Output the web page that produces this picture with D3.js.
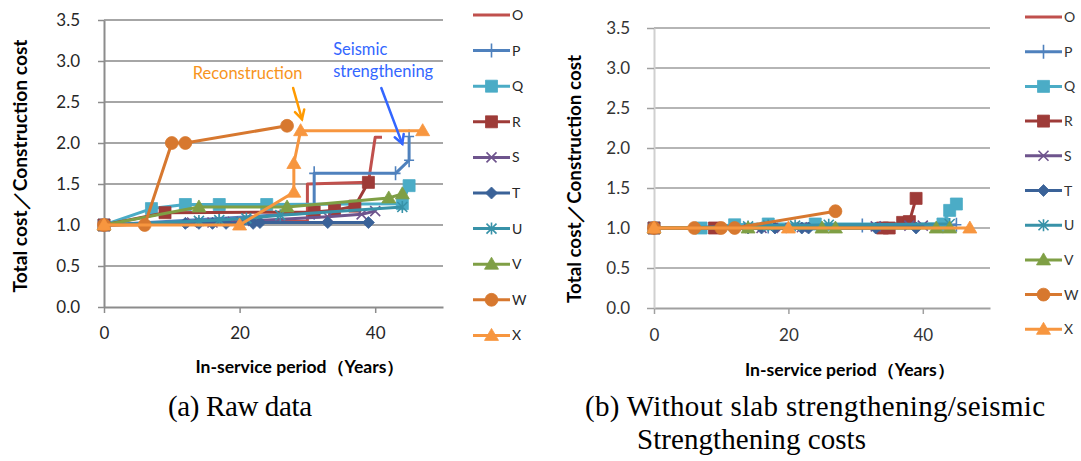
<!DOCTYPE html>
<html>
<head>
<meta charset="utf-8">
<script src="https://cdn.jsdelivr.net/npm/d3@7"></script>
<style>
  body { margin: 0; background: #fff; }
  svg { display: block; }
</style>
</head>
<body>
<script>
// series and ticks
const seriesNames = ["O", "P", "Q", "R", "S", "T", "U", "V", "W", "X"];
const xTicks = [0, 20, 40];
const yTicks = [0, 0.5, 1.0, 1.5, 2.0, 2.5, 3.0, 3.5];

// (a) raw data: [in-service years, total cost / construction cost]
const rawO = [[0, 1.0], [30, 1.05], [30, 1.5], [39, 1.52], [40, 2.07], [41, 2.07]];
const rawP = [[0, 1.0], [17, 1.08], [31, 1.15], [31, 1.63], [43, 1.63], [45, 1.79], [45, 2.08]];
const rawQ = [[0, 1.0], [7, 1.2], [12, 1.25], [17, 1.25], [24, 1.25], [44, 1.26], [45, 1.48]];
const rawR = [[0, 1.0], [9, 1.15], [31, 1.16], [34, 1.18], [37, 1.23], [39, 1.52]];
const rawS = [[0, 1.0], [13, 1.03], [16, 1.03], [19, 1.04], [22, 1.05], [33, 1.1], [38, 1.13], [40, 1.17]];
const rawT = [[0, 1.0], [12, 1.02], [14, 1.02], [16, 1.02], [18, 1.02], [22, 1.02], [23, 1.03], [33, 1.03], [39, 1.03]];
const rawU = [[0, 1.0], [14, 1.05], [17, 1.06], [21, 1.08], [26, 1.12], [44, 1.22]];
const rawV = [[0, 1.0], [14, 1.22], [27, 1.22], [42, 1.33], [44, 1.38]];
const rawW = [[0, 1.0], [6, 1.0], [10, 2.0], [12, 2.0], [27, 2.21]];
const rawX = [[0, 1.0], [20, 1.0], [28, 1.4], [28, 1.75], [29, 2.15], [47, 2.15]];

// (b) without slab strengthening / seismic strengthening costs
const adjO = [[0, 1.0], [30, 1.0], [39, 1.02], [41, 1.02]];
const adjP = [[0, 1.0], [17, 1.02], [31, 1.03], [43, 1.03], [45, 1.04]];
const adjQ = [[0, 1.0], [7, 1.0], [12, 1.04], [17, 1.05], [24, 1.05], [43, 1.05], [44, 1.22], [45, 1.3]];
const adjR = [[0, 1.0], [9, 1.0], [34, 1.0], [35, 1.0], [37, 1.07], [38, 1.08], [39, 1.37]];
const adjS = [[0, 1.0], [13, 1.0], [16, 1.0], [19, 1.0], [22, 1.01], [33, 1.02], [38, 1.03], [40, 1.03]];
const adjT = [[0, 1.0], [12, 1.0], [14, 1.0], [16, 1.0], [18, 1.0], [22, 1.0], [23, 1.0], [33, 1.0], [39, 1.0]];
const adjU = [[0, 1.0], [14, 1.02], [17, 1.03], [21, 1.03], [26, 1.04], [44, 1.05]];
const adjV = [[0, 1.0], [14, 1.0], [25, 1.0], [27, 1.0], [42, 1.0], [44, 1.0]];
const adjW = [[0, 1.0], [6, 1.0], [10, 1.0], [12, 1.0], [27, 1.21]];
const adjX = [[0, 1.0], [20, 1.0], [47, 1.0]];

const rawSeries = [rawO, rawP, rawQ, rawR, rawS, rawT, rawU, rawV, rawW, rawX];
const adjSeries = [adjO, adjP, adjQ, adjR, adjS, adjT, adjU, adjV, adjW, adjX];

// look of each series (Excel 2007 style palette)
const style = {
  O: { color: "#C0504D", marker: "none" },
  P: { color: "#4F81BD", marker: "plus" },
  Q: { color: "#4BACC6", marker: "square" },
  R: { color: "#9E3B38", marker: "square" },
  S: { color: "#6E548D", marker: "cross" },
  T: { color: "#3A6298", marker: "diamond" },
  U: { color: "#3892A8", marker: "asterisk" },
  V: { color: "#7F9F45", marker: "triangle" },
  W: { color: "#D7782F", marker: "circle" },
  X: { color: "#F7963F", marker: "triangle" }
};

const font = "Lato, 'Open Sans', sans-serif";
const svg = d3.select("body").append("svg")
    .attr("width", 1081)
    .attr("height", 461);

// marker path centred on 0,0
function markerPath(type) {
  switch (type) {
    case "square": return "M-6,-6H6V6H-6Z";
    case "diamond": return "M0,-6L6,0L0,6L-6,0Z";
    case "triangle": return "M0,-7L7,5L-7,5Z";
    case "circle": return d3.symbol(d3.symbolCircle, 130)();
    case "plus": return "M-5,0H5M0,-7V7";
    case "cross": return "M-5,-5L5,5M-5,5L5,-5";
    case "asterisk": return "M-5,-5L5,5M-5,5L5,-5M0,-6V6";
    default: return null;
  }
}

function addMarker(sel, name) {
  const st = style[name];
  const d = markerPath(st.marker);
  if (!d) return;
  const open = ["plus", "cross", "asterisk"].includes(st.marker);
  sel.append("path")
      .attr("d", d)
      .attr("fill", open ? "none" : st.color)
      .attr("stroke", st.color)
      .attr("stroke-width", open ? 1.6 : 0.8);
}

function drawPanel(p, series) {
  const x = d3.scaleLinear().domain([0, 50]).range([p.left, p.right]);
  const y = d3.scaleLinear().domain([0, 3.5]).range([p.bottom, p.top]);
  const g = svg.append("g");

  // horizontal gridlines
  g.append("g")
    .selectAll("line")
    .data(yTicks.slice(1))
    .join("line")
      .attr("x1", p.left)
      .attr("x2", p.right)
      .attr("y1", d => y(d))
      .attr("y2", d => y(d))
      .attr("stroke", p.grid)
      .attr("stroke-width", p.gridWidth);

  g.append("g")
      .attr("transform", `translate(0,${p.bottom})`)
      .call(d3.axisBottom(x).tickValues(xTicks).tickSize(6).tickSizeOuter(0).tickPadding(p.xPad))
      .call(a => a.select(".domain").attr("stroke", p.axis).attr("stroke-width", 2))
      .call(a => a.selectAll(".tick line").attr("stroke", p.axis).attr("stroke-width", 1.5))
      .call(a => a.selectAll(".tick text")
          .attr("font-family", font)
          .attr("font-size", 17)
          .attr("fill", p.text));

  g.append("g")
      .attr("transform", `translate(${p.left},0)`)
      .call(d3.axisLeft(y).tickValues(yTicks).tickFormat(d3.format(".1f"))
          .tickSize(p.yTick).tickSizeOuter(0).tickPadding(p.yPad))
      .call(a => a.select(".domain").attr("stroke", p.yAxis).attr("stroke-width", 2))
      .call(a => a.selectAll(".tick line").attr("stroke", p.axis).attr("stroke-width", 1.5))
      .call(a => a.selectAll(".tick text")
          .attr("font-family", font)
          .attr("font-size", 17)
          .attr("fill", p.text));

  const line = d3.line()
      .x(d => x(d[0]))
      .y(d => y(d[1]));

  seriesNames.forEach((name, i) => {
    const st = style[name];
    const sg = g.append("g");
    sg.append("path")
        .datum(series[i])
        .attr("fill", "none")
        .attr("stroke", st.color)
        .attr("stroke-width", 3)
        .attr("stroke-linejoin", "round")
        .attr("d", line);
    sg.selectAll("g.pt")
      .data(series[i])
      .join("g")
        .attr("class", "pt")
        .attr("transform", d => `translate(${x(d[0])},${y(d[1])})`)
        .each(function() { addMarker(d3.select(this), name); });
  });

  // legend
  const lg = svg.append("g")
      .attr("font-family", font)
      .attr("font-size", p.legendSize)
      .attr("fill", p.text);
  seriesNames.forEach((name, i) => {
    const row = lg.append("g")
        .attr("transform", `translate(${p.legendX},${p.legendY + i * p.legendStep})`);
    row.append("line")
        .attr("x1", 0)
        .attr("x2", 37)
        .attr("stroke", style[name].color)
        .attr("stroke-width", 3);
    addMarker(row.append("g").attr("transform", "translate(18.5,0)"), name);
    row.append("text")
        .attr("x", 39)
        .attr("dy", "0.36em")
        .text(name);
  });

  // axis titles
  svg.append("text")
      .attr("transform", `translate(${p.yTitleX},${p.yTitleY}) rotate(-90)`)
      .attr("text-anchor", "middle")
      .attr("font-family", font)
      .attr("font-weight", "bold")
      .attr("font-size", 18)
      .attr("fill", "#000")
      .attr("textLength", p.yTitleLen)
      .attr("lengthAdjust", "spacingAndGlyphs")
      .text("Total cost／Construction cost");

  svg.append("text")
      .attr("x", p.xTitleX)
      .attr("y", p.xTitleY)
      .attr("text-anchor", "middle")
      .attr("font-family", font)
      .attr("font-weight", "bold")
      .attr("font-size", 16.5)
      .attr("fill", "#000")
      .attr("textLength", p.xTitleLen)
      .attr("lengthAdjust", "spacingAndGlyphs")
      .text("In-service period（Years）");

  return { x, y };
}

const a = drawPanel({
  left: 104, right: 443, top: 20, bottom: 307,
  grid: "#A6A6A6", gridWidth: 2, axis: "#8C8C8C", yAxis: "#8C8C8C", text: "#262626",
  xPad: 14, yTick: 6, yPad: 18,
  legendX: 473, legendY: 15, legendStep: 35.6, legendSize: 14,
  yTitleX: 27, yTitleY: 166, yTitleLen: 253,
  xTitleX: 300, xTitleY: 373, xTitleLen: 209
}, rawSeries);

drawPanel({
  left: 654, right: 990, top: 28, bottom: 308,
  grid: "#9C9C9C", gridWidth: 1.3, axis: "#A0A0A0", yAxis: "#D0D0D0", text: "#333",
  xPad: 15, yTick: 7, yPad: 17,
  legendX: 1025, legendY: 17, legendStep: 34.7, legendSize: 14,
  yTitleX: 581, yTitleY: 179, yTitleLen: 248,
  xTitleX: 850, xTitleY: 376, xTitleLen: 210
}, adjSeries);

// annotations on panel (a)
function arrow(from, to, color) {
  const [x1, y1] = [a.x(from[0]), a.y(from[1])];
  const [x2, y2] = [a.x(to[0]), a.y(to[1])];
  const ang = Math.atan2(y2 - y1, x2 - x1);
  const head = 10, spread = 0.5;
  const g = svg.append("g")
      .attr("stroke", color)
      .attr("stroke-width", 2.5)
      .attr("fill", "none")
      .attr("stroke-linecap", "round");
  g.append("line").attr("x1", x1).attr("y1", y1).attr("x2", x2).attr("y2", y2);
  g.append("path")
      .attr("d", `M${x2 - head * Math.cos(ang - spread)},${y2 - head * Math.sin(ang - spread)}` +
                 `L${x2},${y2}` +
                 `L${x2 - head * Math.cos(ang + spread)},${y2 - head * Math.sin(ang + spread)}`);
}

svg.append("text")
    .attr("x", a.x(13.1))
    .attr("y", a.y(2.78))
    .attr("font-family", font)
    .attr("font-size", 16.5)
    .attr("fill", "#F7941D")
    .text("Reconstruction");
arrow([27.9, 2.67], [29.2, 2.29], "#FF9A00");

svg.append("text")
    .attr("font-family", font)
    .attr("font-size", 16.5)
    .attr("fill", "#3366FF")
    .call(t => t.append("tspan").attr("x", a.x(33.8)).attr("y", a.y(3.07)).text("Seismic"))
    .call(t => t.append("tspan").attr("x", a.x(33.8)).attr("y", a.y(2.8)).text("strengthening"));
arrow([40.9, 2.67], [44.0, 1.99], "#3366FF");

// captions
const caption = svg.append("g")
    .attr("font-family", "'Liberation Serif', 'Times New Roman', serif")
    .attr("font-size", 29)
    .attr("fill", "#000")
    .attr("lengthAdjust", "spacingAndGlyphs");
caption.append("text").attr("x", 168).attr("y", 416).attr("textLength", 144).text("(a) Raw data");
caption.append("text").attr("x", 585).attr("y", 416).attr("textLength", 460).text("(b) Without slab strengthening/seismic");
caption.append("text").attr("x", 637).attr("y", 449).attr("textLength", 229).text("Strengthening costs");
</script>
</body>
</html>
